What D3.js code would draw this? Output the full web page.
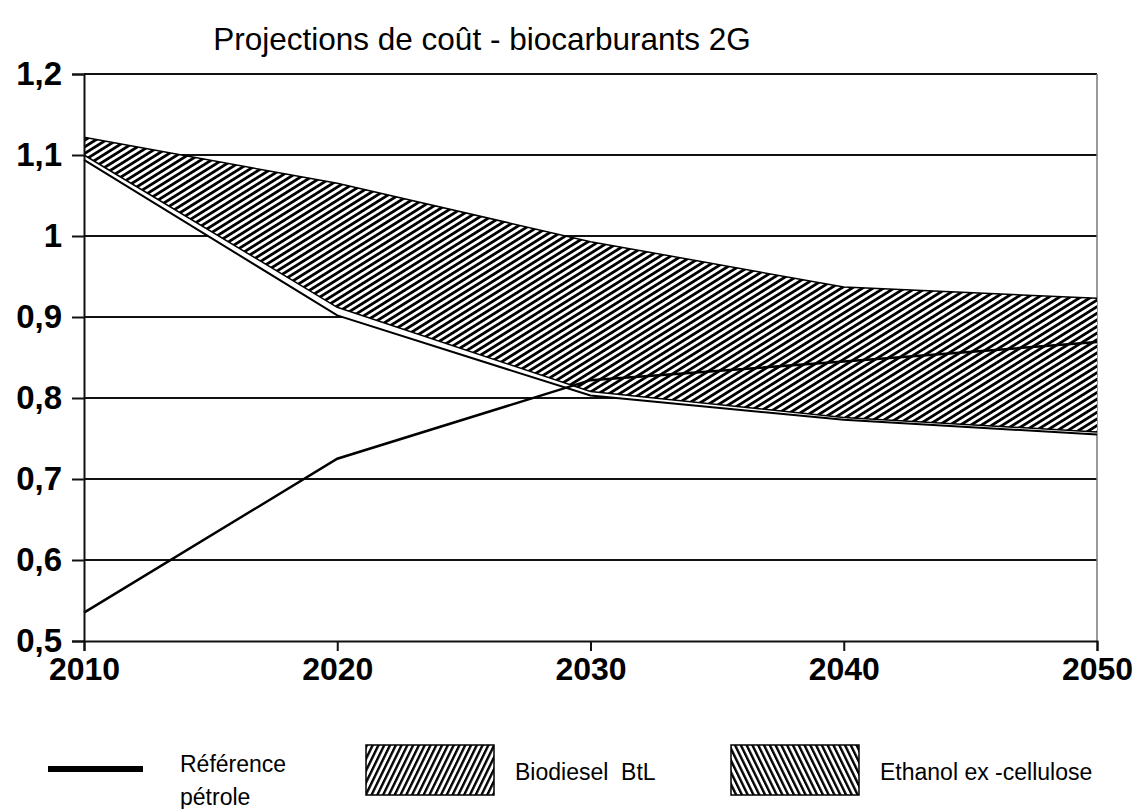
<!DOCTYPE html>
<html>
<head>
<meta charset="utf-8">
<script src="https://cdn.jsdelivr.net/npm/d3@7"></script>
<style>
  body { margin: 0; background: #fff; }
  svg { display: block; font-family: "Liberation Sans", Arial, sans-serif; }
</style>
</head>
<body>
<div id="chart"></div>
<script>
// values
var years = [2010, 2020, 2030, 2040, 2050];
var petrole = [0.535, 0.725, 0.822, 0.845, 0.869];
var btlHigh = [1.122, 1.065, 0.993, 0.937, 0.923];
var btlLow = [1.100, 0.912, 0.808, 0.776, 0.758];
var ethHigh = [1.100, 0.912, 0.808, 0.776, 0.758];
var ethLow = [1.094, 0.902, 0.803, 0.773, 0.755];
var yTicks = [0.5, 0.6, 0.7, 0.8, 0.9, 1, 1.1, 1.2];

var width = 1140, height = 809;
var margin = { top: 74, right: 43, bottom: 168, left: 84 };

var svg = d3.select("#chart")
    .append("svg")
    .attr("width", width)
    .attr("height", height);

var defs = svg.append("defs");
function hatch(id, angle, step, thick) {
  var p = defs.append("pattern")
      .attr("id", id)
      .attr("patternUnits", "userSpaceOnUse")
      .attr("width", step)
      .attr("height", 10)
      .attr("patternTransform", "rotate(" + angle + ")");
  p.append("rect").attr("width", step).attr("height", 10).attr("fill", "#fff");
  p.append("rect").attr("width", thick).attr("height", 10).attr("fill", "#000");
}
hatch("hatchUp", 58, 5.6, 2.8);
hatch("legUp", 26, 5.2, 2.4);
hatch("legDown", -26, 5.2, 2.4);

var x = d3.scaleLinear()
    .domain([2010, 2050])
    .range([margin.left, width - margin.right]);

var y = d3.scaleLinear()
    .domain([0.5, 1.2])
    .range([height - margin.bottom, margin.top]);

// title
svg.append("text")
    .attr("x", 482)
    .attr("y", 50)
    .attr("text-anchor", "middle")
    .attr("font-size", 31.5)
    .text("Projections de coût - biocarburants 2G");

// grid lines
svg.append("g")
  .selectAll("line")
  .data(yTicks.slice(1))
  .join("line")
    .attr("x1", x(2010))
    .attr("x2", x(2050))
    .attr("y1", function (d) { return y(d); })
    .attr("y2", function (d) { return y(d); })
    .attr("stroke", "#111")
    .attr("stroke-width", 2);

// right border
svg.append("line")
    .attr("x1", x(2050)).attr("x2", x(2050))
    .attr("y1", y(1.2)).attr("y2", y(0.5))
    .attr("stroke", "#777")
    .attr("stroke-width", 1.5);

// bands
var area = function (hi, lo) {
  return d3.area()
      .x(function (d, i) { return x(years[i]); })
      .y0(function (d, i) { return y(lo[i]); })
      .y1(function (d, i) { return y(hi[i]); })(years);
};
var edge = function (vals) {
  return d3.line()
      .x(function (d, i) { return x(years[i]); })
      .y(function (d, i) { return y(vals[i]); })(years);
};

svg.append("path")
    .attr("d", area(btlHigh, btlLow))
    .attr("fill", "url(#hatchUp)");
svg.append("path")
    .attr("d", area(ethHigh, ethLow))
    .attr("fill", "#fff");

svg.append("path").attr("d", edge(btlHigh))
    .attr("fill", "none").attr("stroke", "#000").attr("stroke-width", 1.5);
svg.append("path").attr("d", edge(ethHigh))
    .attr("fill", "none").attr("stroke", "#000").attr("stroke-width", 1.5);
svg.append("path").attr("d", edge(ethLow))
    .attr("fill", "none").attr("stroke", "#000").attr("stroke-width", 2);

// petrol reference line
svg.append("path")
    .attr("d", edge(petrole))
    .attr("fill", "none")
    .attr("stroke", "#000")
    .attr("stroke-width", 2.5);

// axes
var yAxis = svg.append("g")
    .attr("transform", "translate(" + x(2010) + ",0)")
    .call(d3.axisLeft(y)
      .tickValues(yTicks)
      .tickSize(12)
      .tickPadding(10)
      .tickFormat(function (d) { return String(d).replace(".", ","); }));
yAxis.select(".domain").attr("stroke", "#111").attr("stroke-width", 2);
yAxis.selectAll(".tick line").attr("stroke", "#111").attr("stroke-width", 2);
yAxis.selectAll(".tick text")
    .attr("font-size", 33)
    .attr("font-weight", "bold")
    .attr("font-family", "Liberation Sans, Arial, sans-serif")
    .attr("fill", "#000");

var xAxis = svg.append("g")
    .attr("transform", "translate(0," + y(0.5) + ")")
    .call(d3.axisBottom(x)
      .tickValues(years)
      .tickSize(10)
      .tickPadding(6)
      .tickFormat(d3.format("d")));
xAxis.select(".domain").attr("stroke", "#111").attr("stroke-width", 2);
xAxis.selectAll(".tick line").attr("stroke", "#111").attr("stroke-width", 2);
xAxis.selectAll(".tick text")
    .attr("font-size", 32)
    .attr("font-weight", "bold")
    .attr("font-family", "Liberation Sans, Arial, sans-serif")
    .attr("fill", "#000");

// legend
var legend = svg.append("g")
    .attr("font-family", "'Liberation Sans', Arial, sans-serif")
    .attr("font-size", 23);

legend.append("line")
    .attr("x1", 48).attr("x2", 143)
    .attr("y1", 769).attr("y2", 769)
    .attr("stroke", "#000").attr("stroke-width", 6);
legend.append("text").attr("x", 180).attr("y", 772).text("Référence");
legend.append("text").attr("x", 180).attr("y", 805).text("pétrole");

legend.append("rect")
    .attr("x", 366).attr("y", 745).attr("width", 128).attr("height", 50)
    .attr("fill", "url(#legUp)").attr("stroke", "#000").attr("stroke-width", 1.5);
legend.append("text").attr("x", 515).attr("y", 780).text("Biodiesel  BtL")
    .attr("xml:space", "preserve");

legend.append("rect")
    .attr("x", 731).attr("y", 745).attr("width", 128).attr("height", 50)
    .attr("fill", "url(#legDown)").attr("stroke", "#000").attr("stroke-width", 1.5);
legend.append("text").attr("x", 880).attr("y", 780).text("Ethanol ex -cellulose");
</script>
</body>
</html>
